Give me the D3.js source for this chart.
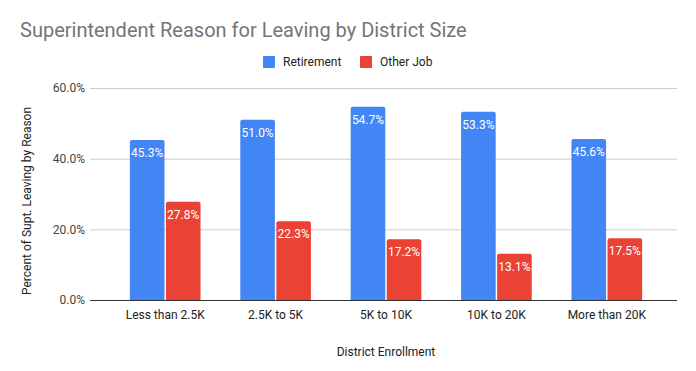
<!DOCTYPE html>
<html><head><meta charset="utf-8">
<script src="https://cdn.jsdelivr.net/npm/d3@7"></script>
<style>body{margin:0;background:#fff;}svg{display:block;font-family:Roboto,Arial,sans-serif;}</style>
</head><body>
<svg id="c" width="696" height="371"></svg>
<script>
const categories = ["Less than 2.5K","2.5K to 5K","5K to 10K","10K to 20K","More than 20K"];
const seriesNames = ["Retirement","Other Job"];
const retirement = [45.3, 51.0, 54.7, 53.3, 45.6];
const otherJob = [27.8, 22.3, 17.2, 13.1, 17.5];
const yTicks = [0, 20, 40, 60];
const colors = ["#4285F4", "#EA4335"];

const svg = d3.select("#c");
const series = [retirement, otherJob];

const x0 = d3.scaleBand().domain(categories).range([110, 662]).paddingInner(0.36).paddingOuter(0.18);
const x1 = d3.scaleBand().domain(seriesNames).range([0, x0.bandwidth()]).paddingInner(0.04);
const y = d3.scaleLinear().domain([0, 60]).range([300, 88]);

// title
svg.append("text").attr("x", 20).attr("y", 37).attr("font-size", 20).attr("fill", "#757575").text("Superintendent Reason for Leaving by District Size");

// legend
const leg = [{n: seriesNames[0], x: 263, c: colors[0]}, {n: seriesNames[1], x: 360, c: colors[1]}];
leg.forEach(l => {
  svg.append("rect").attr("x", l.x).attr("y", 56).attr("width", 12).attr("height", 12).attr("fill", l.c).attr("rx", 1);
  svg.append("text").attr("x", l.x + 20).attr("y", 66).attr("font-size", 12).attr("fill", "#222").text(l.n);
});

// gridlines
svg.append("g").selectAll("line").data(yTicks.filter(d => d > 0)).join("line")
  .attr("x1", 90).attr("x2", 677).attr("y1", d => y(d) + 0.5).attr("y2", d => y(d) + 0.5)
  .attr("stroke", "#cccccc").attr("stroke-width", 1);

// y axis labels
const yAxis = d3.axisLeft(y).tickValues(yTicks).tickSize(0).tickPadding(0).tickFormat(d => d.toFixed(1) + "%");
const ga = svg.append("g").attr("transform", "translate(85,0)").call(yAxis);
ga.select(".domain").remove();
ga.selectAll("text").attr("font-size", 12).attr("fill", "#444").attr("font-family", "Roboto,Arial,sans-serif");

// bars
const groups = svg.append("g").selectAll("g").data(categories).join("g")
  .attr("transform", d => `translate(${x0(d)},0)`);
groups.each(function(cat, i) {
  const g = d3.select(this);
  seriesNames.forEach((s, j) => {
    const v = series[j][i];
    const bx = x1(s), bw = x1.bandwidth(), top = y(v), r = 2;
    const path = `M${bx},300 V${top + r} Q${bx},${top} ${bx + r},${top} H${bx + bw - r} Q${bx + bw},${top} ${bx + bw},${top + r} V300 Z`;
    g.append("path").attr("d", path).attr("fill", colors[j]);
    g.append("text").attr("x", bx + bw / 2).attr("y", top + 17).attr("text-anchor", "middle")
      .attr("font-size", 12).attr("fill", "#fff").text(v.toFixed(1) + "%");
  });
});

// x axis
svg.append("line").attr("x1", 90).attr("x2", 677).attr("y1", 300.5).attr("y2", 300.5).attr("stroke", "#333").attr("stroke-width", 1);
const xAxis = d3.axisBottom(x0).tickSize(0).tickPadding(0);
const gx = svg.append("g").attr("transform", "translate(0,310)").call(xAxis);
gx.select(".domain").remove();
gx.selectAll("text").attr("font-size", 12).attr("fill", "#222").attr("font-family", "Roboto,Arial,sans-serif").attr("dy", "0.71em");

// axis titles
svg.append("text").attr("x", 386).attr("y", 356).attr("text-anchor", "middle").attr("font-size", 12).attr("fill", "#222").text("District Enrollment");
svg.append("text").attr("transform", "translate(31,201) rotate(-90)").attr("text-anchor", "middle").attr("font-size", 12).attr("fill", "#222").text("Percent of Supt. Leaving by Reason");
</script>
</body></html>
